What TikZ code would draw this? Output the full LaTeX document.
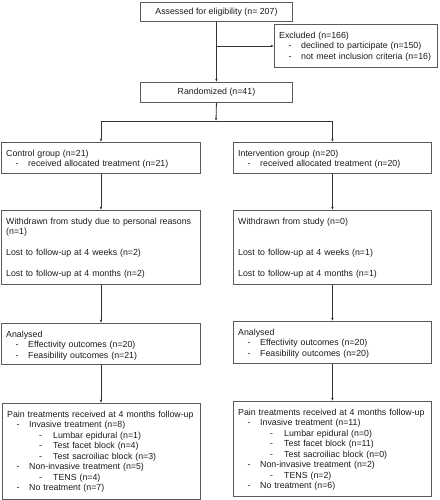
\documentclass[tikz,border=0pt]{standalone}
\usepackage{fontspec}
\setmainfont{Liberation Sans}
\usetikzlibrary{arrows.meta}
\definecolor{bordc}{HTML}{5A5A5A}
\definecolor{linec}{HTML}{333333}
\definecolor{txtc}{HTML}{1A1A1A}
\newcommand{\da}{\hspace*{9.5pt}\makebox[12.5pt][l]{-}}
\newcommand{\db}{\hspace*{32pt}\makebox[14pt][l]{-}}
\begin{document}
\begin{tikzpicture}[x=1pt,y=-1pt,
  box/.style={draw=bordc, line width=0.9pt, inner sep=0pt, anchor=north west, text=txtc,
    font=\fontsize{8.8}{10.5}\selectfont},
  txt/.style={anchor=north west, inner sep=0pt, text width=200pt, align=left, text=txtc,
    font=\fontsize{8.8}{10.5}\selectfont, xshift=5pt, yshift=-6.6pt},
  arr/.style={draw=linec, line width=0.8pt, -{Latex[length=3.2pt,width=2.6pt]}},
  ln/.style={draw=linec, line width=0.8pt}]
\useasboundingbox (0,0) rectangle (439,500);
% boxes
\node[box, minimum width=152pt, minimum height=19pt] (assess) at (140,2) {Assessed for eligibility (n= 207)};
\node[box, minimum width=163pt, minimum height=43pt] (excl) at (274,24) {};
\node[box, minimum width=152pt, minimum height=20pt] (rand) at (140,82) {Randomized (n=41)};
\node[box, minimum width=199pt, minimum height=31pt] (ctrl) at (1,142) {};
\node[box, minimum width=198pt, minimum height=31pt] (intv) at (233,142) {};
\node[box, minimum width=199pt, minimum height=74pt] (wd1) at (1,210) {};
\node[box, minimum width=198pt, minimum height=74pt] (wd2) at (233,210) {};
\node[box, minimum width=199pt, minimum height=41pt] (an1) at (1,323) {};
\node[box, minimum width=198pt, minimum height=42pt] (an2) at (233,321) {};
\node[box, minimum width=198pt, minimum height=96pt] (pain1) at (2,403) {};
\node[box, minimum width=198pt, minimum height=95pt] (pain2) at (233,401) {};
% texts
\node[txt] (excl-t) at (excl.north west) {\strut Excluded (n=166)\\
\da declined to participate (n=150)\\
\da not meet inclusion criteria (n=16)};
\node[txt] (ctrl-t) at (ctrl.north west) {\strut Control group (n=21)\\
\da received allocated treatment (n=21)};
\node[txt] (intv-t) at (intv.north west) {\strut Intervention group (n=20)\\
\da received allocated treatment (n=20)};
\node[txt] (wd1-t) at (wd1.north west) {\strut Withdrawn from study due to personal reasons\\
(n=1)\\[10.5pt]
Lost to follow-up at 4 weeks (n=2)\\[10.5pt]
Lost to follow-up at 4 months (n=2)};
\node[txt] (wd2-t) at (wd2.north west) {\strut Withdrawn from study (n=0)\\[21pt]
Lost to follow-up at 4 weeks (n=1)\\[10.5pt]
Lost to follow-up at 4 months (n=1)};
\node[txt] (an1-t) at (an1.north west) {\strut Analysed\\
\da Effectivity outcomes (n=20)\\
\da Feasibility outcomes (n=21)};
\node[txt] (an2-t) at (an2.north west) {\strut Analysed\\
\da Effectivity outcomes (n=20)\\
\da Feasibility outcomes (n=20)};
\node[txt] (pain1-t) at (pain1.north west) {\strut Pain treatments received at 4 months follow-up\\
\da Invasive treatment (n=8)\\
\db Lumbar epidural (n=1)\\
\db Test facet block (n=4)\\
\db Test sacroiliac block (n=3)\\
\da Non-invasive treatment (n=5)\\
\db TENS (n=4)\\
\da No treatment (n=7)};
\node[txt] (pain2-t) at (pain2.north west) {\strut Pain treatments received at 4 months follow-up\\
\da Invasive treatment (n=11)\\
\db Lumbar epidural (n=0)\\
\db Test facet block (n=11)\\
\db Test sacroiliac block (n=0)\\
\da Non-invasive treatment (n=2)\\
\db TENS (n=2)\\
\da No treatment (n=6)};
% connectors
\draw[arr] (assess.south) -- (rand.north);
\draw[arr] (assess.south |- excl.west) -- (excl.west);
\coordinate (split) at (216,121);
\draw[arr] (rand.south) -- (split);
\draw[ln] (ctrl.north |- split) -- (intv.north |- split);
\draw[arr] (ctrl.north |- split) -- (ctrl.north);
\draw[arr] (intv.north |- split) -- (intv.north);
\draw[arr] (ctrl.south) -- (wd1.north);
\draw[arr] (intv.south) -- (wd2.north);
\draw[arr] (wd1.south) -- (wd1.south |- an1.north);
\draw[arr] (wd2.south) -- (an2.north);
\draw[arr] (an1.south) -- (an1.south |- pain1.north);
\draw[arr] (an2.south) -- (pain2.north);
\end{tikzpicture}
\end{document}
